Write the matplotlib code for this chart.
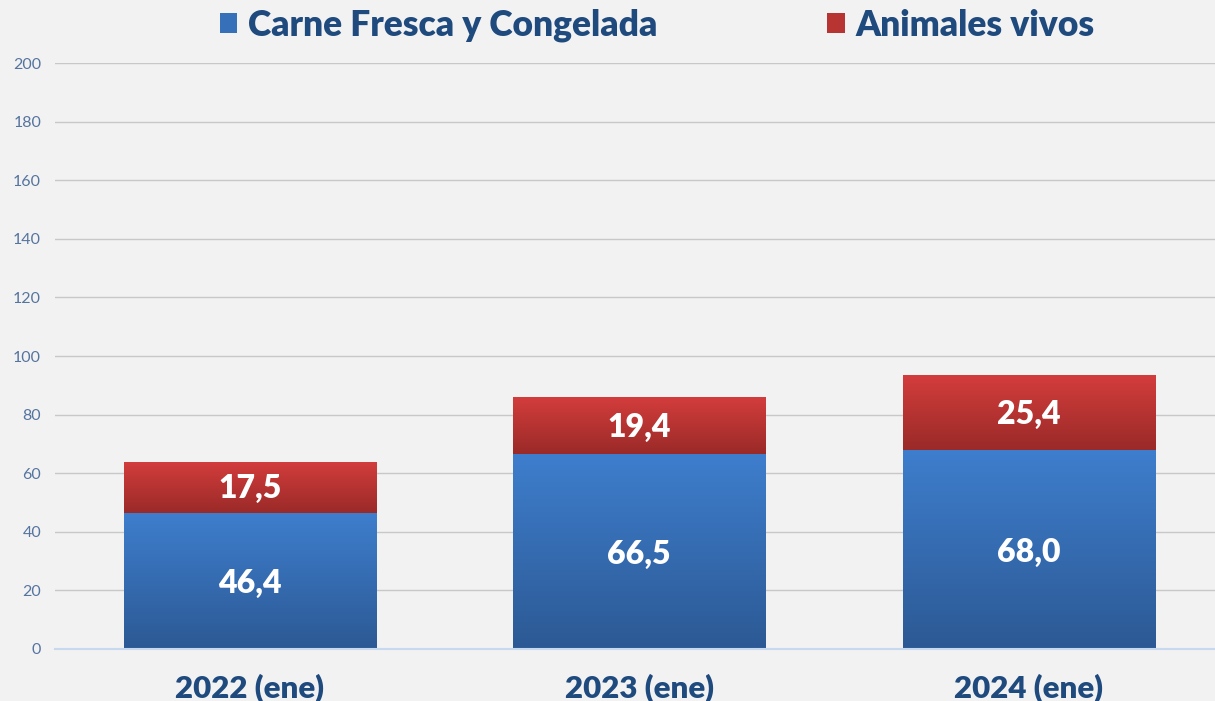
import numpy as np
import matplotlib.pyplot as plt
from matplotlib.colors import LinearSegmentedColormap
from matplotlib.patches import Patch

categorias = ['2022 (ene)', '2023 (ene)', '2024 (ene)']
carne = [46.4, 66.5, 68.0]
animales = [17.5, 19.4, 25.4]
etiquetas_y = [0, 20, 40, 60, 80, 100, 120, 140, 160, 180, 200]

plt.rcParams['font.family'] = ['Lato', 'DejaVu Sans']

fig = plt.figure(figsize=(12.15, 7.01), dpi=100, facecolor='#F2F2F2')
ax = fig.add_axes([0.0453, 0.0742, 0.9547, 0.8359], facecolor='#F2F2F2')

x = np.arange(len(categorias))
ancho = 0.647
b1 = ax.bar(x, carne, ancho, color='#3570B8', zorder=2)
b2 = ax.bar(x, animales, ancho, bottom=carne, color='#B83433', zorder=2)

cmap_azul = LinearSegmentedColormap.from_list('az', ['#2C5994', '#3E7ECD'])
cmap_rojo = LinearSegmentedColormap.from_list('ro', ['#9A2A28', '#D33D3C'])
grad = np.linspace(0, 1, 256).reshape(-1, 1)

def degradado(barras, cmap):
    for p in barras:
        x0, y0 = p.get_x(), p.get_y()
        im = ax.imshow(grad, cmap=cmap, origin='lower', aspect='auto',
                       extent=[x0, x0 + p.get_width(), y0, y0 + p.get_height()],
                       zorder=2.5)
        im.set_clip_path(p)

degradado(b1, cmap_azul)
degradado(b2, cmap_rojo)

for i in range(len(categorias)):
    ax.text(x[i], carne[i] / 2 - 1, f'{carne[i]:.1f}'.replace('.', ','),
            ha='center', va='center', color='white', fontsize=23,
            fontweight='heavy', zorder=4)
    ax.text(x[i], carne[i] + animales[i] / 2 - 0.5, f'{animales[i]:.1f}'.replace('.', ','),
            ha='center', va='center', color='white', fontsize=23,
            fontweight='heavy', zorder=4)

ax.set_xlim(-0.5, 2.478)
ax.set_ylim(0, 200)
ax.set_yticks(etiquetas_y)
ax.set_xticks(x)
ax.set_xticklabels(categorias, fontsize=22.5, fontweight='heavy', color='#1F4A7D')
ax.tick_params(axis='x', length=0, pad=18)
ax.tick_params(axis='y', length=0, pad=10, labelsize=11.5, labelcolor='#5574A0')
ax.yaxis.grid(True, color='#C8C8C8', linewidth=1, zorder=0)
ax.set_axisbelow(True)
for s in ['top', 'right', 'left']:
    ax.spines[s].set_visible(False)
ax.spines['bottom'].set_color('#C6D9F0')
ax.spines['bottom'].set_linewidth(1.5)

handles = [Patch(facecolor='#3570B8'), Patch(facecolor='#B83433')]
fig.legend(handles, ['Carne Fresca y Congelada', 'Animales vivos'], ncol=2,
           loc='upper center', bbox_to_anchor=(0.541, 1.033), frameon=False,
           prop={'size': 25.5, 'weight': 'heavy'}, labelcolor='#1F4A7D',
           handlelength=0.5, handleheight=0.5, handletextpad=0.3,
           columnspacing=4.8)

fig.savefig('out.png', dpi=100, facecolor=fig.get_facecolor())
